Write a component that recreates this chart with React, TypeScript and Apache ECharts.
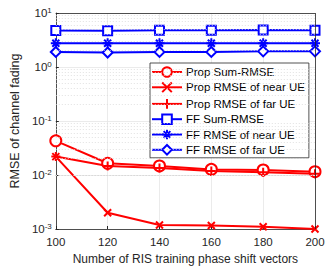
import React, { useEffect, useRef } from "react";
import * as echarts from "echarts";

const xValues = [100, 120, 140, 160, 180, 200];
const propSum = [0.043, 0.0165, 0.0147, 0.0127, 0.0124, 0.0115];
const propNear = [0.0219, 0.002, 0.00119, 0.00116, 0.0011, 0.001];
const propFar = [0.022, 0.0147, 0.0135, 0.0118, 0.0112, 0.0105];
const ffSum = [4.75, 4.7, 4.8, 4.8, 4.85, 4.8];
const ffNear = [2.75, 2.75, 2.75, 2.75, 2.75, 2.75];
const ffFar = [1.9, 1.85, 1.9, 1.9, 1.95, 1.95];
const seriesNames = [
  "Prop Sum-RMSE",
  "Prop RMSE of near UE",
  "Prop RMSE of far UE",
  "FF Sum-RMSE",
  "FF RMSE of near UE",
  "FF RMSE of far UE",
];
const minorGrid = [2, 3, 4, 5, 6, 7, 8, 9].flatMap((m) => [0.001, 0.01, 0.1, 1].map((d) => m * d));

const FONT = "Liberation Sans";
const RED = "#ff0000";
const BLUE = "#0000ff";

const symX = "path://M0,0L10,10M10,0L0,10";
const symPlus = "path://M5,0L5,10M0,5L10,5";
const symStar = "path://M5,0L5,10M0,5L10,5M1.5,1.5L8.5,8.5M8.5,1.5L1.5,8.5";
const symDiamond = "path://M5,0L10,5L5,10L0,5Z";
const symSquare = "path://M0,0L10,0L10,10L0,10Z";

export default function App() {
  const ref = useRef<HTMLDivElement>(null);
  useEffect(() => {
    if (!ref.current) return;
    const chart = echarts.init(ref.current, undefined, { renderer: "svg" });
    const mk = (name: string, data: number[], color: string, symbol: string, size: number, fill = false) => ({
      name,
      type: "line",
      data: xValues.map((x, i) => [x, data[i]]),
      symbol,
      symbolSize: size,
      showSymbol: true,
      lineStyle: { color, width: 2 },
      itemStyle: { color: fill ? "#fff" : "none", borderColor: color, borderWidth: 2 },
      z: 3,
    });
    chart.setOption({
      animation: false,
      textStyle: { fontFamily: FONT },
      grid: { left: 55, right: 17, top: 13, bottom: 43, show: false },
      legend: {
        orient: "vertical",
        left: 150,
        top: 63,
        width: 149,
        itemWidth: 30,
        itemHeight: 12,
        itemGap: 2,
        padding: [3, 4, 2, 1],
        backgroundColor: "#fff",
        borderColor: "#262626",
        borderWidth: 0.8,
        borderRadius: 0,
        textStyle: { fontFamily: FONT, fontSize: 11.5, lineHeight: 12, color: "#000", padding: [0, 0, 0, -1] },
        data: seriesNames,
      },
      xAxis: {
        type: "value",
        min: 100,
        max: 200,
        interval: 20,
        name: "Number of RIS training phase shift vectors",
        nameLocation: "middle",
        nameGap: 22,
        nameTextStyle: { fontSize: 12, color: "#262626", fontFamily: FONT },
        axisLine: { show: true, lineStyle: { color: "#262626", width: 0.8 } },
        axisTick: { show: true, inside: true, length: 3, lineStyle: { color: "#262626" } },
        axisLabel: { fontSize: 11.5, color: "#262626", margin: 7, fontFamily: FONT },
        splitLine: { show: true, lineStyle: { color: "#e6e6e6", width: 0.8 } },
      },
      yAxis: {
        type: "log",
        logBase: 10,
        min: 0.001,
        max: 10,
        name: "RMSE of channel fading",
        nameLocation: "middle",
        nameGap: 32,
        nameTextStyle: { fontSize: 12.5, color: "#262626", fontFamily: FONT },
        axisLine: { show: true, lineStyle: { color: "#262626", width: 0.8 } },
        axisTick: { show: true, inside: true, length: 3, lineStyle: { color: "#262626" } },
        axisLabel: {
          fontSize: 11.5,
          color: "#262626",
          margin: 4,
          fontFamily: FONT,
          formatter: (v: number) => `{b|10}{s|${Math.round(Math.log10(v))}}`,
          rich: {
            b: { fontSize: 11.5, color: "#262626", fontFamily: FONT },
            s: { fontSize: 8, color: "#262626", fontFamily: FONT, verticalAlign: "top", padding: [0, 0, 6, 0] },
          },
        },
        splitLine: { show: true, lineStyle: { color: "#e6e6e6", width: 0.8 } },
      },
      series: [
        {
          name: "grid-minor",
          type: "line",
          data: [],
          silent: true,
          markLine: {
            silent: true,
            symbol: "none",
            label: { show: false },
            lineStyle: { color: "#d9d9d9", type: [1, 2], width: 0.8 },
            data: minorGrid.map((v) => ({ yAxis: v })),
          },
          z: 1,
        },
        {
          name: "frame",
          type: "line",
          data: [],
          silent: true,
          markLine: {
            silent: true,
            symbol: "none",
            label: { show: false },
            lineStyle: { color: "#262626", type: "solid", width: 0.8 },
            data: [{ yAxis: 10 }, { xAxis: 200 }],
          },
          z: 2,
        },
        mk(seriesNames[0], propSum, RED, "circle", 11, true),
        mk(seriesNames[1], propNear, RED, symX, 7),
        mk(seriesNames[2], propFar, RED, symPlus, 9),
        mk(seriesNames[3], ffSum, BLUE, symSquare, 9, true),
        mk(seriesNames[4], ffNear, BLUE, symStar, 10),
        mk(seriesNames[5], ffFar, BLUE, symDiamond, 10, true),
      ],
    });
    return () => chart.dispose();
  }, []);
  return <div ref={ref} style={{ width: 332, height: 272, position: "absolute", left: 0, top: 0, background: "#fff" }} />;
}
